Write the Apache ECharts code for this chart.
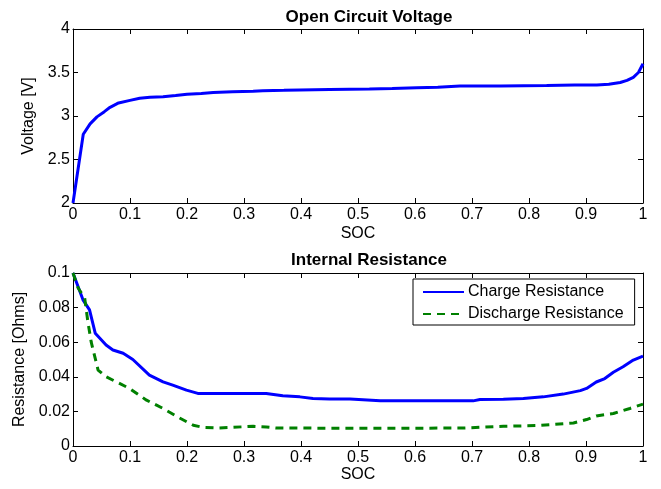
<!DOCTYPE html>
<html>
<head>
<meta charset="utf-8">
<script src="https://cdn.jsdelivr.net/npm/echarts@6/dist/echarts.min.js"></script>
<style>
  html, body { margin: 0; padding: 0; background: #fff; }
  #chart { width: 661px; height: 489px; }
</style>
</head>
<body>
<div id="chart"></div>
<script>
// open circuit voltage
const socOcv = [0, 0.018, 0.03, 0.042, 0.055, 0.065, 0.08, 0.1, 0.117, 0.135, 0.158, 0.18, 0.2, 0.225, 0.246, 0.28, 0.316, 0.333, 0.37, 0.398, 0.45, 0.52, 0.56, 0.603, 0.64, 0.679, 0.75, 0.831, 0.88, 0.919, 0.94, 0.96, 0.972, 0.983, 0.992, 1.0]
const ocv = [2.0, 2.79, 2.91, 2.99, 3.05, 3.10, 3.15, 3.18, 3.205, 3.215, 3.22, 3.235, 3.25, 3.26, 3.27, 3.28, 3.285, 3.29, 3.295, 3.30, 3.305, 3.31, 3.315, 3.325, 3.33, 3.345, 3.345, 3.35, 3.355, 3.355, 3.365, 3.385, 3.41, 3.445, 3.50, 3.60]

// internal resistance
const socCharge = [0, 0.0175, 0.029, 0.039, 0.058, 0.07, 0.088, 0.105, 0.134, 0.158, 0.175, 0.199, 0.219, 0.28, 0.339, 0.368, 0.398, 0.421, 0.45, 0.486, 0.539, 0.6, 0.702, 0.714, 0.755, 0.79, 0.825, 0.86, 0.89, 0.901, 0.918, 0.933, 0.948, 0.965, 0.983, 1.0]
const rCharge = [0.1, 0.0845, 0.0787, 0.0652, 0.0584, 0.0555, 0.0536, 0.050, 0.041, 0.0371, 0.0352, 0.0323, 0.0304, 0.0304, 0.0304, 0.029, 0.0284, 0.0275, 0.0271, 0.0271, 0.0261, 0.0261, 0.0261, 0.0269, 0.027, 0.0275, 0.0284, 0.030, 0.032, 0.0333, 0.037, 0.039, 0.0426, 0.0458, 0.0497, 0.052]
const socDischarge = [0, 0.009, 0.0205, 0.026, 0.032, 0.044, 0.058, 0.076, 0.099, 0.129, 0.158, 0.187, 0.211, 0.228, 0.257, 0.316, 0.339, 0.357, 0.45, 0.6, 0.685, 0.755, 0.813, 0.878, 0.901, 0.918, 0.948, 0.977, 1.0]
const rDischarge = [0.1, 0.0913, 0.0855, 0.072, 0.060, 0.0439, 0.040, 0.0371, 0.0333, 0.0265, 0.0217, 0.0162, 0.012, 0.0108, 0.0104, 0.0114, 0.011, 0.0104, 0.0103, 0.0103, 0.0104, 0.0114, 0.0118, 0.0133, 0.0153, 0.0174, 0.0188, 0.0217, 0.0242]

const zip = (xs, ys) => xs.map((x, i) => [x, ys[i]])

const font = 'Liberation Sans, Arial, sans-serif'
const labelStyle = { color: '#000', fontSize: 16, fontFamily: font }
const titleStyle = { fontSize: 17, fontWeight: 'bold', fontFamily: font, color: '#000' }

function xAxes (gridIndex, gap) {
  const base = {
    type: 'value',
    gridIndex,
    min: 0,
    max: 1,
    interval: 0.1,
    splitLine: { show: false },
    axisLine: { onZero: false, lineStyle: { color: '#000', width: 1 } },
    axisTick: { inside: true, length: 5, lineStyle: { color: '#000' } }
  }
  return [
    { ...base, position: 'bottom', name: 'SOC', nameLocation: 'middle', nameGap: gap,
      nameTextStyle: labelStyle, axisLabel: { ...labelStyle, margin: 4 } },
    { ...base, position: 'top', axisLabel: { show: false } }
  ]
}

function yAxes (gridIndex, min, max, interval, name, gap) {
  const base = {
    type: 'value',
    gridIndex,
    min,
    max,
    interval,
    splitLine: { show: false },
    axisLine: { onZero: false, lineStyle: { color: '#000', width: 1 } },
    axisTick: { inside: true, length: 5, lineStyle: { color: '#000' } }
  }
  return [
    { ...base, position: 'left', name, nameLocation: 'middle', nameGap: gap,
      nameTextStyle: labelStyle, axisLabel: { ...labelStyle, margin: 3 } },
    { ...base, position: 'right', axisLabel: { show: false } }
  ]
}

const option = {
  backgroundColor: '#fff',
  animation: false,
  title: [
    { text: 'Open Circuit Voltage', left: 364, top: 4, textAlign: 'center', textStyle: titleStyle },
    { text: 'Internal Resistance', left: 364, top: 247, textAlign: 'center', textStyle: titleStyle }
  ],
  grid: [
    { left: 73, right: 18, top: 29, height: 174 },
    { left: 73, right: 18, top: 273, height: 173 }
  ],
  xAxis: [...xAxes(0, 23), ...xAxes(1, 20)],
  yAxis: [
    ...yAxes(0, 2, 4, 0.5, 'Voltage [V]', 35),
    ...yAxes(1, 0, 0.1, 0.02, 'Resistance [Ohms]', 45)
  ],
  legend: {
    orient: 'vertical',
    left: 413,
    top: 279,
    padding: [5, 11, 3, 9],
    itemGap: 6,
    itemWidth: 41,
    itemHeight: 16,
    borderColor: '#000',
    borderWidth: 1,
    backgroundColor: '#fff',
    itemStyle: { opacity: 0 },
    textStyle: { ...labelStyle, padding: [0, 0, 0, -1] },
    data: ['Charge Resistance', 'Discharge Resistance']
  },
  series: [
    { type: 'line', xAxisIndex: 0, yAxisIndex: 0, data: zip(socOcv, ocv),
      showSymbol: false, symbol: 'none', lineStyle: { color: '#0000ff', width: 3 }, itemStyle: { color: '#0000ff' } },
    { name: 'Charge Resistance', type: 'line', xAxisIndex: 2, yAxisIndex: 2, data: zip(socCharge, rCharge),
      showSymbol: false, symbol: 'none', lineStyle: { color: '#0000ff', width: 3 }, itemStyle: { color: '#0000ff' } },
    { name: 'Discharge Resistance', type: 'line', xAxisIndex: 2, yAxisIndex: 2, data: zip(socDischarge, rDischarge),
      showSymbol: false, symbol: 'none', lineStyle: { color: '#008000', width: 3, type: [8, 6] }, itemStyle: { color: '#008000' } }
  ]
}

const myChart = echarts.init(document.getElementById('chart'), null, { renderer: 'canvas' })
myChart.setOption(option)
</script>
</body>
</html>
